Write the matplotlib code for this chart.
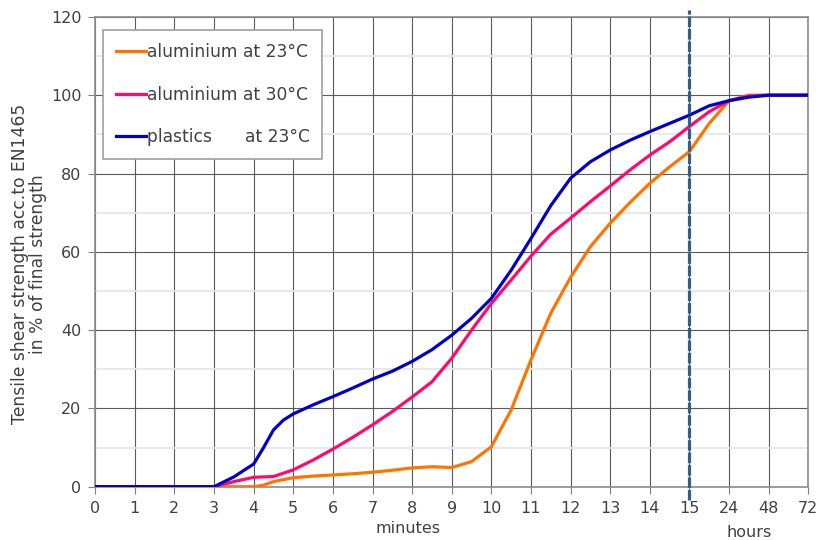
import matplotlib
matplotlib.use("Agg")
import matplotlib.pyplot as plt
from matplotlib.transforms import blended_transform_factory

plt.rcParams['font.family'] = ['DejaVu Sans']

# x positions are category slots: 0..15 minutes, then 24, 48, 72 hours
tick_labels = ['0', '1', '2', '3', '4', '5', '6', '7', '8', '9', '10', '11',
               '12', '13', '14', '15', '24', '48', '72']

alu23_x = [0, 1, 2, 3, 4, 4.25, 4.5, 5, 5.5, 6, 6.5, 7, 7.5, 8, 8.5, 9, 9.5, 10,
           10.5, 11, 11.5, 12, 12.5, 13, 13.5, 14, 14.5, 15, 15.5, 16, 16.5, 17, 18]
alu23_y = [0, 0, 0, 0, 0, 0.4, 1.3, 2.3, 2.7, 3.0, 3.3, 3.7, 4.2, 4.8, 5.1, 4.9, 6.4, 10.2,
           19.6, 32.4, 44.3, 53.5, 61.3, 67.3, 72.6, 77.5, 81.7, 85.6, 92.8, 98.6, 100, 100, 100]

alu30_x = [0, 1, 2, 3, 3.5, 4, 4.5, 5, 5.5, 6, 6.5, 7, 7.5, 8, 8.5, 9, 9.5, 10,
           10.5, 11, 11.5, 12, 12.5, 13, 13.5, 14, 14.5, 15, 15.5, 16, 16.5, 17, 18]
alu30_y = [0, 0, 0, 0, 1.3, 2.4, 2.6, 4.3, 6.8, 9.6, 12.6, 15.8, 19.2, 22.9, 26.8, 32.8, 40, 46.8,
           52.8, 58.9, 64.5, 68.6, 72.8, 76.8, 80.9, 84.7, 88.1, 92, 95.8, 98.6, 99.8, 100, 100]

plast_x = [0, 1, 2, 3, 3.5, 4, 4.25, 4.5, 4.75, 5, 5.5, 6, 6.5, 7, 7.5, 8, 8.5, 9, 9.5, 10,
           10.5, 11, 11.5, 12, 12.5, 13, 13.5, 14, 14.5, 15, 15.5, 16, 16.5, 17, 18]
plast_y = [0, 0, 0, 0, 2.5, 5.8, 10, 14.5, 17, 18.6, 20.9, 23, 25.2, 27.5, 29.5, 32, 35, 38.7, 43, 48.1,
           55.3, 63.4, 71.8, 78.8, 83, 86, 88.5, 90.7, 92.8, 94.9, 97.3, 98.6, 99.5, 100, 100]

txt = '#404040'
fig = plt.figure(figsize=(8.2, 5.4), dpi=100)
ax = fig.add_axes([0.1161, 0.0987, 0.8696, 0.87])

ax.plot(alu23_x, alu23_y, color='#ff7400', lw=2.3, label='aluminium at 23°C', zorder=3)
ax.plot(alu30_x, alu30_y, color='#ff0a6c', lw=2.3, label='aluminium at 30°C', zorder=3)
ax.plot(plast_x, plast_y, color='#0000c8', lw=2.3, label='plastics      at 23°C', zorder=4)

dl, = ax.plot([15, 15], [-3.5, 121.8], color='#2f5f8a', lw=2.3, clip_on=False, zorder=5)
dl.set_dashes((3.3, 0.6))

ax.set_xlim(0, 18)
ax.set_ylim(0, 120)
ax.set_xticks(range(19))
ax.set_xticklabels(tick_labels)
ax.set_yticks(range(0, 121, 20))
ax.set_yticks(range(10, 120, 20), minor=True)
ax.tick_params(axis='y', which='minor', length=0)
ax.tick_params(which='major', direction='out', length=5, color='#808080',
               labelsize=11.5, labelcolor=txt, pad=5)

ax.grid(True, which='major', color='#5a5a5a', lw=0.8, zorder=0)
ax.grid(True, which='minor', axis='y', color='#e6e7ef', lw=1.3, zorder=0)
ax.set_axisbelow(True)
for s in ax.spines.values():
    s.set_color('#8c8c8c')
    s.set_linewidth(1.2)

leg = ax.legend(loc='upper left', bbox_to_anchor=(0.011, 0.972), borderaxespad=0,
                fontsize=12.3, handlelength=1.75, handletextpad=0.05, labelspacing=1.45,
                borderpad=0.75, fancybox=False, framealpha=1, edgecolor='#a0a0a0')
for t in leg.get_texts():
    t.set_color(txt)
leg.get_frame().set_linewidth(1.2)

tr = blended_transform_factory(ax.transData, ax.transAxes)
ax.text(7.9, -0.088, 'minutes', transform=tr, ha='center', va='center', fontsize=11.5, color=txt)
ax.text(16.5, -0.097, 'hours', transform=tr, ha='center', va='center', fontsize=11.5, color=txt)

fig.text(29 / 820, (540 - 264) / 540,
         'Tensile shear strength acc.to EN1465\nin % of final strength',
         rotation=90, ha='center', va='center', multialignment='center',
         fontsize=12.3, color=txt, linespacing=1.0)

fig.savefig('out.png', dpi=100)
